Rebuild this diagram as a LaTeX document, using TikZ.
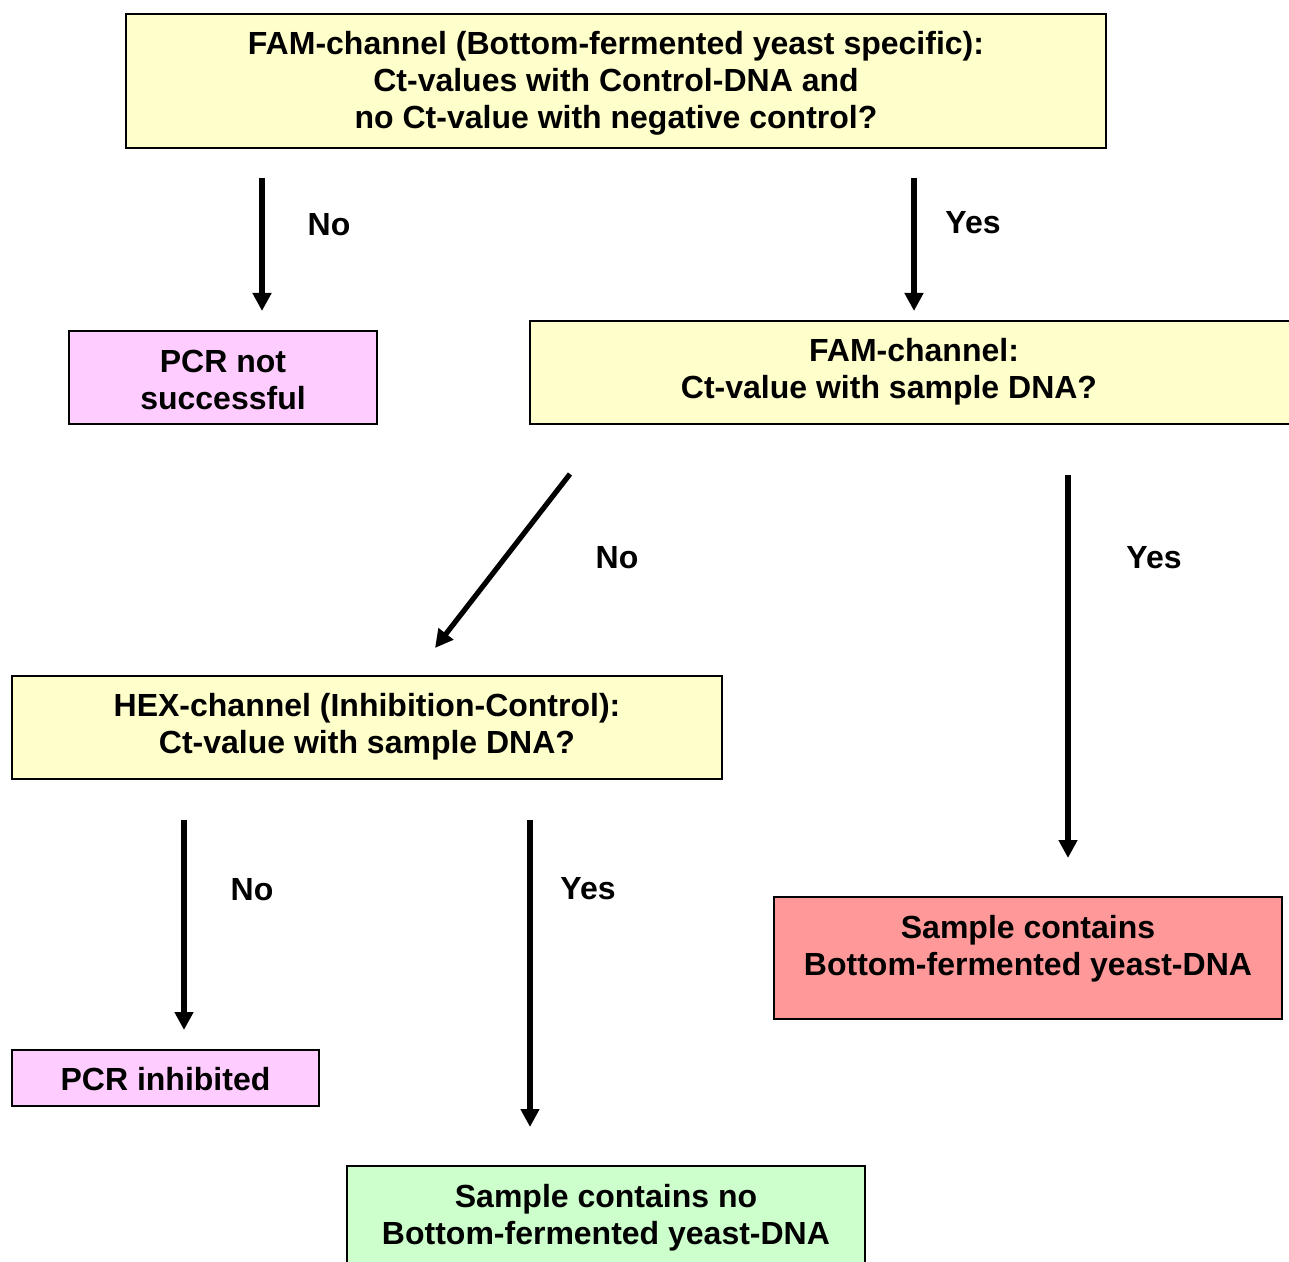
\documentclass[tikz,border=0pt]{standalone}
\usepackage{fontspec}
\setmainfont{Liberation Sans}
\usetikzlibrary{arrows.meta}
\definecolor{boxyellow}{HTML}{FFFFCC}
\definecolor{boxpink}{HTML}{FFCCFF}
\definecolor{boxred}{HTML}{FF9999}
\definecolor{boxgreen}{HTML}{CCFFCC}
\begin{document}
\begin{tikzpicture}[x=0.5pt,y=-0.5pt,
  box/.style={draw=black, line width=1pt, rectangle, inner sep=0pt, align=center,
    font=\fontsize{16}{18.5}\selectfont\bfseries},
  txt/.style={inner sep=0pt, align=center, font=\fontsize{16}{18.5}\selectfont\bfseries},
  lbl/.style={inner sep=0pt, font=\fontsize{16}{18.5}\selectfont\bfseries},
  arr/.style={line width=2.6pt, -{Triangle[length=9pt,width=9pt]}}]
\useasboundingbox (0,0) rectangle (1289,1262);
\clip (0,0) rectangle (1289,1262);

% boxes
\node[box, fill=boxyellow, minimum width=490pt, minimum height=67pt] (q1) at (616,81) {};
\node[txt] (q1T) at (616,83)
  {FAM-channel (Bottom-fermented yeast specific):\\Ct-values with Control-DNA and\\no Ct-value with negative control?};
\node[box, fill=boxpink, minimum width=154pt, minimum height=46.5pt] (fail) at (223,377.5) {};
\node[txt] (failT) at (223,379.5) {PCR not\\successful};
\node[box, fill=boxyellow, minimum width=384pt, minimum height=51.5pt] (q2) at (914,372.5) {};
\node[txt] (q2T) at (914,372) {FAM-channel:\\Ct-value with sample DNA?\hspace*{25pt}};
\node[box, fill=boxyellow, minimum width=355pt, minimum height=51.5pt] (q3) at (367,727.5) {};
\node[txt] (q3T) at (367,727) {HEX-channel (Inhibition-Control):\\Ct-value with sample DNA?};
\node[box, fill=boxred, minimum width=254pt, minimum height=61pt] (pos) at (1028,958) {};
\node[txt] (posT) at (1028,949) {Sample contains\\Bottom-fermented yeast-DNA};
\node[box, fill=boxpink, minimum width=153.5pt, minimum height=28pt] (inh) at (165.5,1078) {};
\node[txt] (inhT) at (165.5,1079) {PCR inhibited};
\node[box, fill=boxgreen, minimum width=259pt, minimum height=61pt] (neg) at (606,1227) {};
\node[txt] (negT) at (606,1218) {Sample contains no\\Bottom-fermented yeast-DNA};

% arrow end points
\coordinate (a1s) at (262,178); \coordinate (a1e) at (262,311);
\coordinate (a2s) at (914,178); \coordinate (a2e) at (914,311);
\coordinate (a3s) at (570,474); \coordinate (a3e) at (435,648);
\coordinate (a4s) at (1068,475); \coordinate (a4e) at (1068,858);
\coordinate (a5s) at (184,820); \coordinate (a5e) at (184,1030);
\coordinate (a6s) at (530,820); \coordinate (a6e) at (530,1127);

\draw[arr] (a1s) -- (a1e);
\draw[arr] (a2s) -- (a2e);
\draw[arr] (a3s) -- (a3e);
\draw[arr] (a4s) -- (a4e);
\draw[arr] (a5s) -- (a5e);
\draw[arr] (a6s) -- (a6e);

% labels
\node[lbl] (l1) at (329,225) {No};
\node[lbl] (l2) at (973,223) {Yes};
\node[lbl] (l3) at (617,558) {No};
\node[lbl] (l4) at (1154,558) {Yes};
\node[lbl] (l5) at (252,890) {No};
\node[lbl] (l6) at (588,889) {Yes};
\end{tikzpicture}
\end{document}
